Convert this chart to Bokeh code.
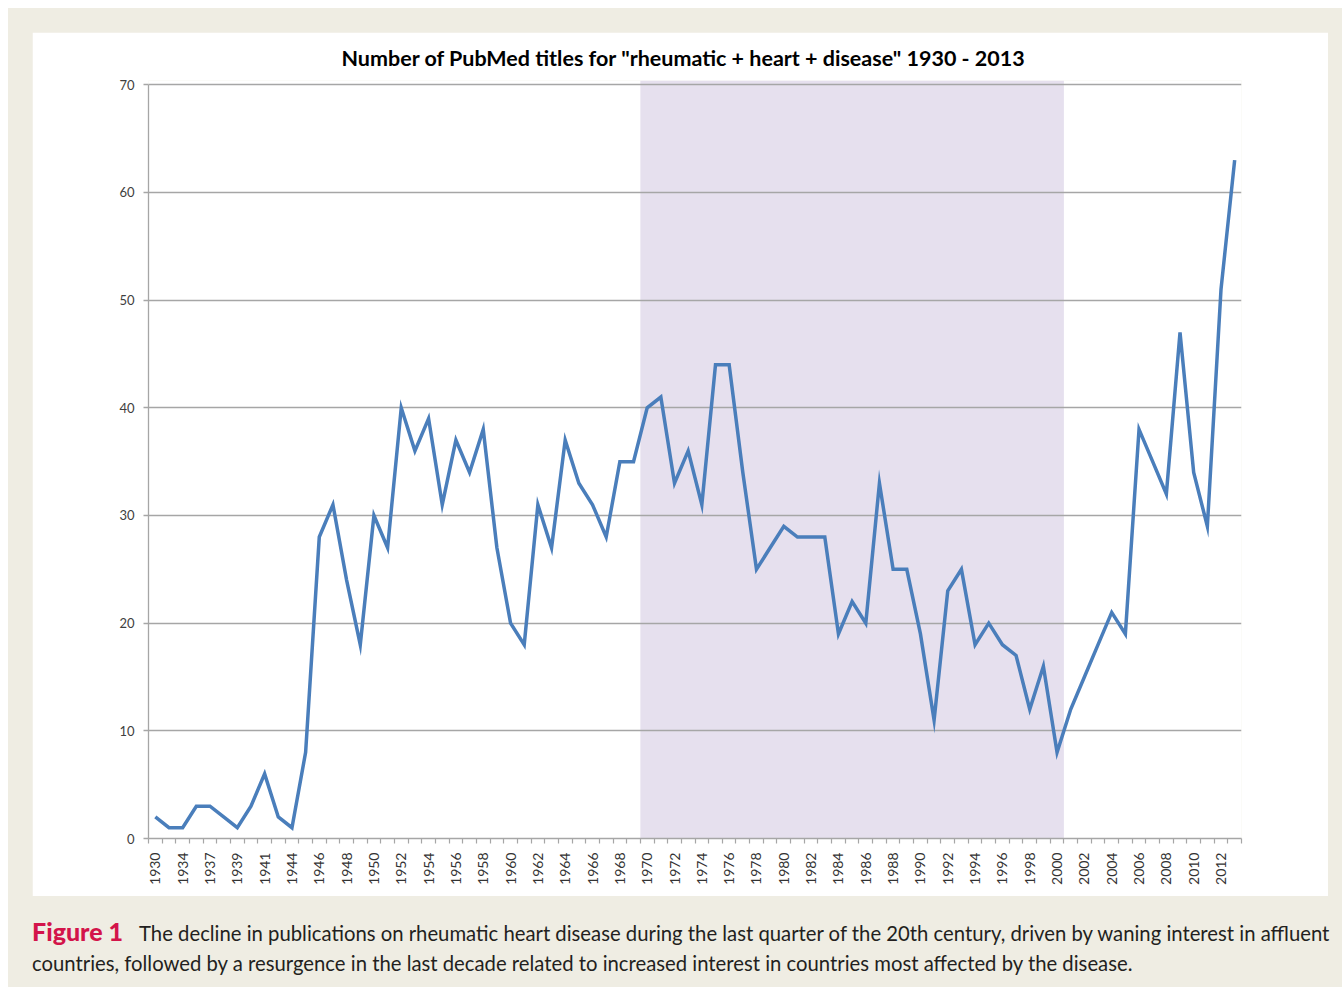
import numpy as np
from bokeh.plotting import figure
from bokeh.models import Range1d, FixedTicker, BoxAnnotation, Div, Spacer
from bokeh.layouts import column, row
from bokeh.embed import file_html
from bokeh.resources import INLINE

# ---------------- data ----------------
years = ["1930", "1933", "1934", "1935", "1937", "1938", "1939", "1940", "1941",
         "1942", "1944", "1945"] + [str(y) for y in range(1946, 2014)]

counts = [2, 1, 1, 3, 3, 2, 1, 3, 6, 2, 1, 8,
          28, 31, 24, 18, 30, 27, 40, 36, 39, 31,
          37, 34, 38, 27, 20, 18, 31, 27, 37, 33,
          31, 28, 35, 35, 40, 41, 33, 36, 31, 44,
          44, 34, 25, 27, 29, 28, 28, 28, 19, 22,
          20, 33, 25, 25, 19, 11, 23, 25, 18, 20,
          18, 17, 12, 16, 8, 12, 15, 18, 21, 19,
          38, 35, 32, 47, 34, 29, 51, 63]

y_ticks = [0, 10, 20, 30, 40, 50, 60, 70]
shade_from, shade_to = "1970", "2000"

title_text = 'Number of PubMed titles for "rheumatic + heart + disease" 1930 - 2013'
caption_html = ('<span style="color:#d3144a;font-weight:900;font-size:25px">Figure 1</span>'
                '<span style="display:inline-block;width:16px"></span>The decline in publications on rheumatic heart disease during the last '
                'quarter of the 20th century, driven by waning interest in affluent<br>'
                'countries, followed by a resurgence in the last decade related to increased '
                'interest in countries most affected by the disease.')

# ---------------- figure ----------------
n = len(years)
xs = np.arange(n)
grey = "#a6a6a6"
beige = "#efede3"

p = figure(width=1296, height=864, output_backend="svg", toolbar_location=None,
           x_range=Range1d(-0.5, n - 0.5), y_range=Range1d(0, 70.4),
           min_border_left=116, min_border_right=87, min_border_top=48, min_border_bottom=58,
           border_fill_color="white", background_fill_color="white", outline_line_color=None)

p.title.text = title_text
p.title.text_font = "Lato"
p.title.text_font_style = "bold"
p.title.text_font_size = "21.5px"
p.title.text_color = "#000000"
p.title.align = "left"
p.title.offset = 193
p.title.standoff = 19

shade = BoxAnnotation(left=years.index(shade_from) - 0.5, right=years.index(shade_to) + 0.5,
                      bottom=0, top=70.4, fill_color="#e6e0ee", fill_alpha=1.0,
                      line_color=None, level="image")
p.add_layout(shade)

p.line(xs, counts, line_color="#4a7ebb", line_width=3.5, line_join="miter")

# y axis
p.yaxis.ticker = FixedTicker(ticks=y_ticks)
p.yaxis.bounds = (0, 70)
p.yaxis.axis_line_color = grey
p.yaxis.axis_line_width = 1.3
p.yaxis.major_tick_line_color = grey
p.yaxis.major_tick_line_width = 1.3
p.yaxis.major_tick_out = 5
p.yaxis.major_tick_in = 0
p.yaxis.minor_tick_line_color = None
p.yaxis.major_label_text_font = "Lato"
p.yaxis.major_label_text_font_size = "13px"
p.yaxis.major_label_text_color = "#404040"
p.yaxis.major_label_standoff = 9

# x axis
p.xaxis.ticker = FixedTicker(ticks=[int(i) for i in xs[::2]],
                             minor_ticks=[i - 0.5 for i in range(n + 1)])
p.xaxis.major_label_overrides = {int(i): years[i] for i in range(n)}
p.xaxis.major_label_orientation = np.pi / 2
p.xaxis.major_label_text_font = "Lato"
p.xaxis.major_label_text_font_size = "14px"
p.xaxis.major_label_text_color = "#333333"
p.xaxis.major_label_standoff = 9
p.xaxis.axis_line_color = grey
p.xaxis.axis_line_width = 1.3
p.xaxis.major_tick_out = 0
p.xaxis.major_tick_in = 0
p.xaxis.minor_tick_line_color = grey
p.xaxis.minor_tick_line_width = 1.2
p.xaxis.minor_tick_out = 5
p.xaxis.minor_tick_in = 0

p.xgrid.visible = False
p.ygrid.grid_line_color = grey
p.ygrid.grid_line_width = 1.3

caption = Div(text=caption_html, width=1310, height=70,
              margin=(20, 0, 0, 24),
              styles={"font-family": "Lato", "font-size": "20.3px", "line-height": "30px",
                      "color": "#231f20", "white-space": "nowrap"})

layout = column(Spacer(width=1334, height=24),
                row(Spacer(width=24, height=864), p),
                caption,
                width=1334, height=979, margin=(8, 0, 0, 8),
                styles={"background-color": beige})

open("out.html", "w").write(file_html(layout, INLINE))
